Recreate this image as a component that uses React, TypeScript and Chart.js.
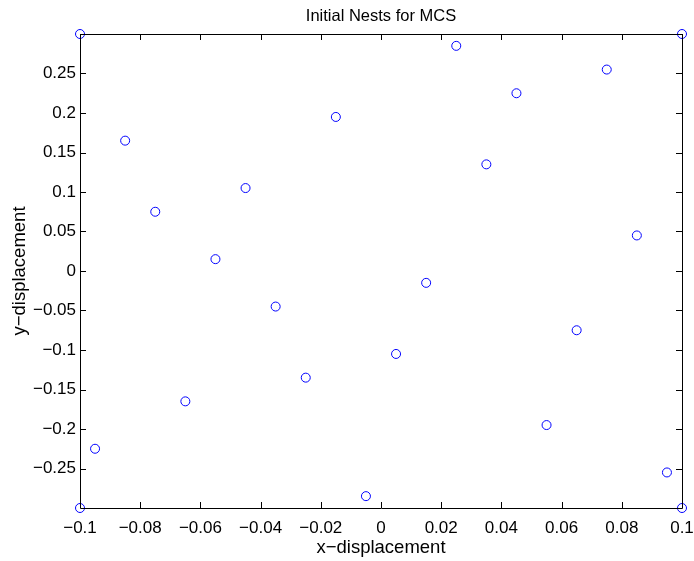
import React, { useEffect, useRef } from "react";
import { Chart, registerables } from "chart.js";

Chart.register(...registerables);

const chartTitle = "Initial Nests for MCS";
const xLabel = "x\u2212displacement";
const yLabel = "y\u2212displacement";

const nestX = [-0.1, 0.1, -0.1, 0.1, -0.085, -0.095, -0.075, -0.065, -0.055, -0.045, -0.035, -0.025, -0.015, -0.005, 0.005, 0.015, 0.025, 0.035, 0.045, 0.055, 0.065, 0.075, 0.085, 0.095];
const nestY = [0.3, 0.3, -0.3, -0.3, 0.165, -0.225, 0.075, -0.165, 0.015, 0.105, -0.045, -0.135, 0.195, -0.285, -0.105, -0.015, 0.285, 0.135, 0.225, -0.195, -0.075, 0.255, 0.045, -0.255];

const xTicks = [-0.1, -0.08, -0.06, -0.04, -0.02, 0, 0.02, 0.04, 0.06, 0.08, 0.1];
const yTicks = [-0.25, -0.2, -0.15, -0.1, -0.05, 0, 0.05, 0.1, 0.15, 0.2, 0.25];

const FONT = "'Liberation Sans', Arial, Helvetica, sans-serif";

function fmt(v: number): string {
  const r = Math.round(v * 1000) / 1000;
  if (r === 0) return "0";
  const s = String(Math.abs(r));
  return (r < 0 ? "\u2212" : "") + s;
}

const boxPlugin = {
  id: "matlabBox",
  afterDraw(chart: any) {
    const { ctx, chartArea } = chart;
    const { left, right, top, bottom } = chartArea;
    const xs = chart.scales.x;
    const ys = chart.scales.y;
    ctx.save();
    ctx.strokeStyle = "#000";
    ctx.lineWidth = 1;
    ctx.beginPath();
    ctx.rect(left + 0.5, top + 0.5, right - left, bottom - top);
    ctx.stroke();
    const tl = 6;
    ctx.beginPath();
    for (const v of xTicks) {
      const px = Math.round(xs.getPixelForValue(v)) + 0.5;
      ctx.moveTo(px, bottom);
      ctx.lineTo(px, bottom - tl);
      ctx.moveTo(px, top);
      ctx.lineTo(px, top + tl);
    }
    for (const v of yTicks) {
      const py = Math.round(ys.getPixelForValue(v)) + 0.5;
      ctx.moveTo(left, py);
      ctx.lineTo(left + tl, py);
      ctx.moveTo(right, py);
      ctx.lineTo(right - tl, py);
    }
    ctx.stroke();
    ctx.fillStyle = "#000";
    ctx.textAlign = "center";
    ctx.textBaseline = "middle";
    const cx = (left + right) / 2;
    ctx.font = "16.5px " + FONT;
    ctx.fillText(chartTitle, cx, 16);
    ctx.font = "18.5px " + FONT;
    ctx.fillText(xLabel, cx, 548);
    ctx.translate(20, (top + bottom) / 2);
    ctx.rotate(-Math.PI / 2);
    ctx.fillText(yLabel, 0, 0);
    ctx.restore();
  },
};

export default function App() {
  const ref = useRef<HTMLCanvasElement | null>(null);
  useEffect(() => {
    if (!ref.current) return;
    const points = nestX.map((x, i) => ({ x, y: nestY[i] }));
    const chart = new Chart(ref.current, {
      type: "scatter",
      data: {
        datasets: [
          {
            data: points,
            borderColor: "#0000ff",
            backgroundColor: "rgba(0,0,0,0)",
            borderWidth: 1,
            pointRadius: 4.5,
            pointStyle: "circle",
          },
        ],
      },
      options: {
        animation: false,
        responsive: false,
        devicePixelRatio: 1,
        clip: false as any,
        layout: { padding: { left: 0, right: 12, top: 34, bottom: 0 } },
        plugins: { legend: { display: false }, tooltip: { enabled: false }, title: { display: false } },
        scales: {
          x: {
            type: "linear",
            min: -0.1,
            max: 0.1,
            afterBuildTicks: (s: any) => {
              s.ticks = xTicks.map((v) => ({ value: v }));
            },
            afterFit: (s: any) => {
              s.height = 53;
              s.paddingLeft = 0;
              s.paddingRight = 0;
            },
            grid: { display: false, drawTicks: false },
            border: { display: false },
            ticks: {
              padding: 10,
              color: "#000",
              font: { family: FONT, size: 17 },
              callback: (v: any) => fmt(Number(v)),
              maxRotation: 0,
              autoSkip: false,
            },
          },
          y: {
            type: "linear",
            min: -0.3,
            max: 0.3,
            afterBuildTicks: (s: any) => {
              s.ticks = yTicks.map((v) => ({ value: v }));
            },
            afterFit: (s: any) => {
              s.width = 80;
              s.paddingTop = 0;
              s.paddingBottom = 0;
            },
            grid: { display: false, drawTicks: false },
            border: { display: false },
            ticks: {
              padding: 4,
              color: "#000",
              font: { family: FONT, size: 17 },
              callback: (v: any) => fmt(Number(v)),
              autoSkip: false,
            },
          },
        },
      },
      plugins: [boxPlugin],
    });
    return () => chart.destroy();
  }, []);
  return (
    <div style={{ position: "absolute", left: 0, top: 0, width: 694, height: 561, background: "#fff" }}>
      <canvas ref={ref} width={694} height={561} style={{ width: 694, height: 561 }} />
    </div>
  );
}
